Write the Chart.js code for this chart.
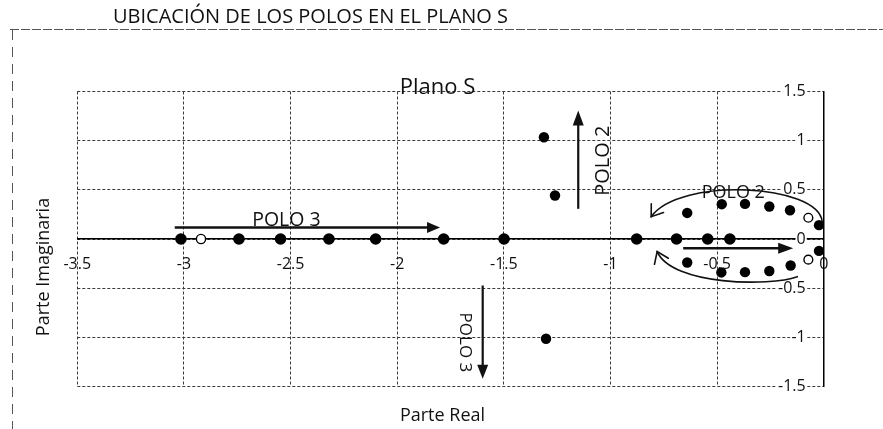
<!DOCTYPE html>
<html>
<head>
<meta charset="utf-8">
<title>Plano S</title>
<script src="https://cdn.jsdelivr.net/npm/chart.js@4.4.1/dist/chart.umd.min.js"></script>
<style>
  html, body { margin: 0; padding: 0; background: #fff; }
  canvas { display: block; }
</style>
</head>
<body>
<canvas id="plano" width="883" height="429"></canvas>
<script>
// Poles on the real axis (filled) and the open marker on it
const realPoleX = [-3.014, -2.742, -2.547, -2.320, -2.101, -1.782, -1.499, -0.877, -0.690, -0.544, -0.440];
const realOpenX = [-2.920];

// Isolated complex poles
const complexPoleX = [-1.312, -1.260, -1.302];
const complexPoleY = [1.035, 0.442, -1.014];

// Loop of poles near the origin (upper and lower halves)
const loopUpperX = [-0.640, -0.478, -0.369, -0.255, -0.158, -0.022];
const loopUpperY = [0.265, 0.354, 0.357, 0.330, 0.292, 0.141];
const loopLowerX = [-0.640, -0.480, -0.369, -0.255, -0.155, -0.022];
const loopLowerY = [-0.239, -0.340, -0.337, -0.325, -0.269, -0.121];
const loopOpenX = [-0.072, -0.072];
const loopOpenY = [0.216, -0.210];

// Axis tick labels
const xTickLabels = ['-3.5', '-3', '-2.5', '-2', '-1.5', '-1', '-0.5', '0'];
const yTickLabels = ['-1.5', '-1', '-0.5', '0', '0.5', '1', '1.5'];

const FONT = "'Open Sans', 'DejaVu Sans', sans-serif";
const INK = '#111';

const pts = (xs, ys) => xs.map((x, i) => ({ x: x, y: ys ? ys[i] : 0 }));

// Arrows, curved arrows and labels placed in data units
function drawNotes(chart) {
  const ctx = chart.ctx;
  const X = v => chart.scales.x.getPixelForValue(v);
  const Y = v => chart.scales.y.getPixelForValue(v);

  function solidArrow(x1, y1, x2, y2, lw, hl, hw) {
    const a = X(x1), b = Y(y1), c = X(x2), d = Y(y2);
    const ang = Math.atan2(d - b, c - a);
    ctx.save();
    ctx.strokeStyle = INK; ctx.fillStyle = INK; ctx.lineWidth = lw;
    ctx.beginPath();
    ctx.moveTo(a, b);
    ctx.lineTo(c - Math.cos(ang) * hl * 0.8, d - Math.sin(ang) * hl * 0.8);
    ctx.stroke();
    ctx.translate(c, d); ctx.rotate(ang);
    ctx.beginPath();
    ctx.moveTo(0, 0); ctx.lineTo(-hl, -hw); ctx.lineTo(-hl, hw); ctx.closePath();
    ctx.fill();
    ctx.restore();
  }

  function curvedArrow(p, lw) {
    const q = p.map(o => [X(o[0]), Y(o[1])]);
    ctx.save();
    ctx.strokeStyle = INK; ctx.lineWidth = lw; ctx.lineCap = 'round';
    ctx.beginPath();
    ctx.moveTo(q[0][0], q[0][1]);
    ctx.bezierCurveTo(q[1][0], q[1][1], q[2][0], q[2][1], q[3][0], q[3][1]);
    ctx.stroke();
    // open head at the end of the curve
    const back = Math.atan2(q[2][1] - q[3][1], q[2][0] - q[3][0]);
    const len = 13, spread = 0.62;
    ctx.beginPath();
    ctx.moveTo(q[3][0] + Math.cos(back + spread) * len, q[3][1] + Math.sin(back + spread) * len);
    ctx.lineTo(q[3][0], q[3][1]);
    ctx.lineTo(q[3][0] + Math.cos(back - spread) * len, q[3][1] + Math.sin(back - spread) * len);
    ctx.stroke();
    ctx.restore();
  }

  function label(text, x, y, size, rot, align) {
    ctx.save();
    ctx.fillStyle = INK;
    ctx.font = size + 'px ' + FONT;
    ctx.translate(X(x), Y(y));
    ctx.rotate(rot);
    ctx.textAlign = align;
    ctx.textBaseline = rot ? 'middle' : 'alphabetic';
    ctx.fillText(text, 0, 0);
    ctx.restore();
  }

  // POLO 3 moving along the real axis
  solidArrow(-3.043, 0.116, -1.799, 0.116, 2.5, 13, 5.5);
  label('POLO 3', -2.68, 0.128, 19.5, 0, 'left');

  // POLO 2 moving up
  solidArrow(-1.151, 0.307, -1.151, 1.306, 2.2, 15, 5.5);
  label('POLO 2', -1.035, 0.797, 20, -Math.PI / 2, 'center');

  // POLO 3 moving down
  solidArrow(-1.599, -0.473, -1.599, -1.421, 2.2, 14, 5.5);
  label('POLO 3', -1.682, -1.052, 17, Math.PI / 2, 'center');

  // loop near the origin
  solidArrow(-0.659, -0.093, -0.143, -0.093, 2.5, 15, 5.5);
  curvedArrow([[-0.007, 0.176], [-0.026, 0.562], [-0.673, 0.633], [-0.809, 0.227]], 1.6);
  curvedArrow([[-0.124, -0.383], [-0.251, -0.484], [-0.711, -0.474], [-0.781, -0.128]], 1.6);
  label('POLO 2', -0.572, 0.417, 18, 0, 'left');
}

const notesPlugin = {
  id: 'notes',
  beforeDraw(chart) {
    const ctx = chart.ctx;
    ctx.save();
    // page frame
    ctx.strokeStyle = '#555'; ctx.lineWidth = 1;
    ctx.setLineDash([9, 2]);
    ctx.beginPath(); ctx.moveTo(10, 29.5); ctx.lineTo(883, 29.5); ctx.stroke();
    ctx.setLineDash([10, 7]);
    ctx.beginPath(); ctx.moveTo(12.5, 30); ctx.lineTo(12.5, 429); ctx.stroke();
    ctx.setLineDash([]);
    // heading
    ctx.fillStyle = INK;
    ctx.font = '20px ' + FONT;
    ctx.textAlign = 'left'; ctx.textBaseline = 'alphabetic';
    ctx.fillText('UBICACIÓN DE LOS POLOS EN EL PLANO S', 113, 22.6);
    ctx.restore();
  },
  afterDatasetsDraw(chart) {
    drawNotes(chart);
  },
  afterDraw(chart) {
    const ctx = chart.ctx;
    ctx.save();
    ctx.fillStyle = INK;
    ctx.textBaseline = 'alphabetic';
    ctx.textAlign = 'center';
    ctx.font = '22px ' + FONT;
    ctx.fillText('Plano S', 437.5, 94);
    ctx.font = '18px ' + FONT;
    ctx.fillText('Parte Real', 442.5, 421);
    ctx.translate(44, 267);
    ctx.rotate(-Math.PI / 2);
    ctx.textBaseline = 'middle';
    ctx.fillText('Parte Imaginaria', 0, 0);
    ctx.restore();
  }
};

const filled = (data, r) => ({
  data: data, pointRadius: r, pointHoverRadius: r,
  backgroundColor: '#000', borderColor: '#000', borderWidth: 0, showLine: false
});
const hollow = (data, r) => ({
  data: data, pointRadius: r, pointHoverRadius: r,
  backgroundColor: '#fff', borderColor: '#000', borderWidth: 1.4, showLine: false
});

new Chart(document.getElementById('plano'), {
  type: 'scatter',
  data: {
    datasets: [
      filled(pts(realPoleX), 5.8),
      hollow(pts(realOpenX), 4.6),
      filled(pts(complexPoleX, complexPoleY), 5.2),
      filled(pts(loopUpperX, loopUpperY), 5.2),
      filled(pts(loopLowerX, loopLowerY), 5.2),
      hollow(pts(loopOpenX, loopOpenY), 4.4)
    ]
  },
  options: {
    responsive: false,
    animation: false,
    events: [],
    layout: { padding: { left: 77.3, right: 59.3, top: 91.5, bottom: 42.5 } },
    plugins: { legend: { display: false }, title: { display: false }, tooltip: { enabled: false } },
    scales: {
      x: {
        type: 'linear',
        position: { y: 0 },
        min: -3.5, max: 0,
        ticks: {
          stepSize: 0.5,
          padding: 16,
          color: INK,
          font: { family: FONT, size: 16 },
          callback: (v, i) => xTickLabels[i]
        },
        grid: { color: '#3a3a3a', lineWidth: 1, drawTicks: false },
        border: { display: true, color: '#000', width: 1.5, dash: [3, 2] }
      },
      y: {
        type: 'linear',
        position: 'right',
        min: -1.5, max: 1.5,
        afterFit: s => { s.width = 0; },
        ticks: {
          stepSize: 0.5,
          mirror: true,
          padding: -18,
          color: INK,
          font: { family: FONT, size: 16 },
          showLabelBackdrop: true,
          backdropColor: '#fff',
          backdropPadding: 1,
          callback: (v, i) => yTickLabels[i]
        },
        grid: { color: '#3a3a3a', lineWidth: 1, drawTicks: false },
        border: { display: true, color: '#000', width: 1.5, dash: [3, 2] }
      }
    }
  },
  plugins: [notesPlugin]
});
</script>
</body>
</html>
